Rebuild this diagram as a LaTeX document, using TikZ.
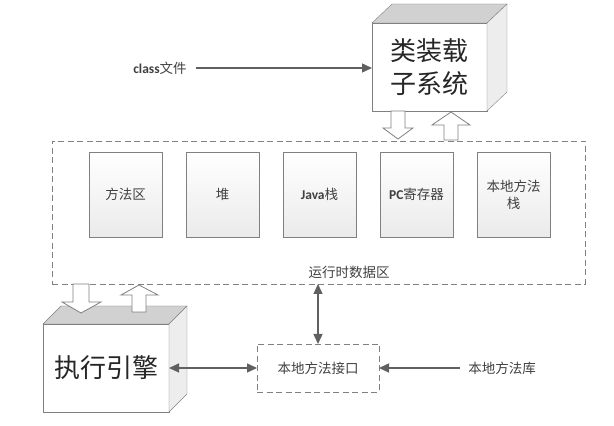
\documentclass[tikz,border=0pt]{standalone}
\usepackage{fontspec}
\setmainfont{Carlito}
\newfontfamily\cjk{Noto Sans CJK SC}
\usetikzlibrary{positioning,arrows.meta}
\definecolor{edgegray}{HTML}{808080}
\definecolor{arrowgray}{HTML}{606060}
\definecolor{txtgray}{HTML}{404040}
\newcommand\westbf[1]{{\rmfamily\bfseries #1}}
\tikzset{
    cube/.style ={
        draw=edgegray,
        fill=white,
        minimum height=88pt,
        inner sep=0pt,
        outer sep=0pt,
        align=center,
        font=\cjk\fontsize{26}{33}\selectfont,
        text=black!85
    },
    topface/.style ={draw=edgegray, fill=black!18},
    sideface/.style ={draw=edgegray, fill=black!7},
    part/.style ={
        draw=edgegray,
        top color=white,
        bottom color=black!8,
        minimum width=73pt,
        minimum height=85pt,
        inner sep=0pt,
        outer sep=0pt,
        align=center,
        font=\cjk\fontsize{13.5}{17}\selectfont,
        text=txtgray
    },
    caption/.style ={font=\cjk\fontsize{13.5}{17}\selectfont, text=txtgray, inner sep=0pt},
    zone/.style ={draw=edgegray, dash pattern=on 6pt off 3.5pt, line width=0.9pt, inner sep=0pt, outer sep=0pt},
    link/.style ={draw=arrowgray, line width=1.4pt, ->},
    hollow/.style ={draw=edgegray, fill=white, line width=0.8pt}
}

\begin{document}
\begin{tikzpicture}[x=1pt,y=1pt,>={Triangle[length=10pt,width=9pt]}]
    \useasboundingbox (0,0) rectangle (614,426);
    % cubes
    \node[cube, minimum width=115pt] (loader) at (429.5,359) {类装载\\子系统};
    \draw[topface] (loader.north west) -- ++(20,19) -- ++(115,0) -- (loader.north east) -- cycle;
    \draw[sideface] (loader.north east) -- ++(20,19) -- ++(0,-88) -- (loader.south east) -- cycle;
    \node[cube, minimum width=126pt] (engine) at (106,58) {执行引擎};
    \draw[topface] (engine.north west) -- ++(18,18) -- ++(126,0) -- (engine.north east) -- cycle;
    \draw[sideface] (engine.north east) -- ++(18,18) -- ++(0,-88) -- (engine.south east) -- cycle;
    % runtime data area
    \node[zone, minimum width=533pt, minimum height=143pt] (area) at (318.5,213.5) {};
    \node[part] (method) at (125.5,231.5) {方法区};
    \node[part, right=24pt of method] (heap) {堆};
    \node[part, right=24pt of heap] (jstack) {\westbf{Java}栈};
    \node[part, right=24pt of jstack] (pc) {\westbf{PC}寄存器};
    \node[part, right=24pt of pc] (nstack) {本地方法\\栈};
    \node[caption, above=5.5pt of area.south, xshift=30.5pt] (areaname) {运行时数据区};
    % native interface
    \node[zone, caption, minimum width=122pt, minimum height=48pt] (iface) at (318,58) {本地方法接口};
    \node[caption, inner xsep=8pt] (lib) at (502,58) {本地方法库};
    \node[caption, inner xsep=9pt] (cls) at (160,358) {\westbf{class}文件};
    % connectors
    \draw[link] (cls.east) -- (cls.east -| loader.west);
    \draw[link, <->] (area.south -| iface.north) -- (iface.north);
    \draw[link, <->] (iface.west) -- (engine.east);
    \draw[link] (lib.west) -- (iface.east);
    % hollow block arrows
    \draw[hollow] (391,315) -- (391,298) -- (383,298) -- (398,287) -- (413,298) -- (405,298) -- (405,315) -- cycle;
    \draw[hollow] (444,286) -- (444,301) -- (432,301) -- (451,314) -- (470,301) -- (458,301) -- (458,286) -- cycle;
    \draw[hollow] (73,142) -- (73,124) -- (62,124) -- (81,113) -- (101,124) -- (89,124) -- (89,142) -- cycle;
    \draw[hollow] (132,114) -- (132,131) -- (121,131) -- (139,141) -- (158,131) -- (146,131) -- (146,114) -- cycle;
\end{tikzpicture}
\end{document}
